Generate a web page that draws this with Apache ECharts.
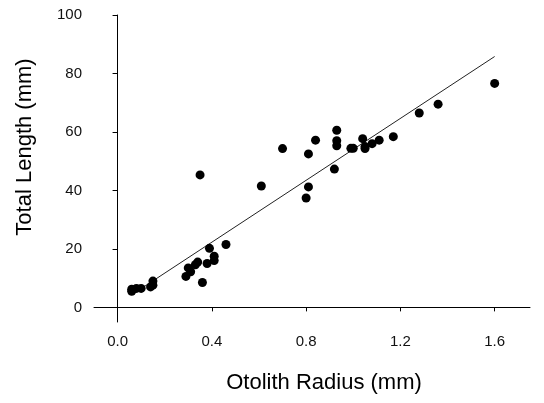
<!DOCTYPE html>
<html><head><meta charset="utf-8">
<script src="https://cdn.jsdelivr.net/npm/echarts@6/dist/echarts.min.js"></script>
<style>html,body{margin:0;padding:0;background:#fff}#c{width:544px;height:403px}</style>
</head><body><div id="c"></div>
<script>
const radius = [0.06,0.06,0.08,0.10,0.14,0.15,0.15,0.29,0.30,0.31,0.33,0.34,0.36,0.38,0.39,0.41,0.41,0.46,0.35,0.61,0.70,0.80,0.81,0.81,0.84,0.92,0.93,0.93,0.93,0.99,1.00,1.04,1.05,1.05,1.08,1.11,1.17,1.28,1.36,1.60];
const length = [5.5,6.2,6.5,6.5,7.0,7.6,9.0,10.6,13.5,12.2,14.6,15.5,8.5,15.0,20.2,17.5,16.0,21.5,45.3,41.5,54.3,37.4,41.2,52.5,57.2,47.3,55.3,57.0,60.6,54.4,54.4,57.7,54.3,55.0,56.0,57.2,58.4,66.5,69.5,76.6];
const fitLine = [[0.06,4.3],[1.60,85.8]];
const xTicks = [0,0.4,0.8,1.2,1.6];
const yTicks = [0,20,40,60,80,100];
const xTitle = 'Otolith Radius (mm)';
const yTitle = 'Total Length (mm)';

const chart = echarts.init(document.getElementById('c'));
const font = 'Liberation Sans, Arial, sans-serif';
chart.setOption({
  animation:false,
  grid:{left:94,right:14,top:15,bottom:81},
  graphic:[
    {type:'text',x:324,y:383,style:{text:xTitle,fontSize:22,fontFamily:font,fill:'#000',align:'center',verticalAlign:'middle'}},
    {type:'text',x:25,y:147,rotation:Math.PI/2,style:{text:yTitle,fontSize:22,fontFamily:font,fill:'#000',align:'center',verticalAlign:'middle'}}
  ],
  xAxis:{type:'value',min:-0.1,max:1.75,
    axisLine:{lineStyle:{color:'#000',width:1}},
    axisTick:{show:true,length:4,customValues:xTicks,lineStyle:{color:'#000'}},
    axisLabel:{customValues:xTicks,color:'#111',fontSize:15,fontFamily:font,margin:12,
      formatter:v=>v.toFixed(1)},
    splitLine:{show:false}},
  yAxis:{type:'value',min:-5,max:100,
    axisLine:{show:true,lineStyle:{color:'#000',width:1}},
    axisTick:{show:true,length:5,customValues:yTicks,lineStyle:{color:'#000'}},
    axisLabel:{customValues:yTicks,color:'#111',fontSize:15,fontFamily:font,margin:12},
    splitLine:{show:false}},
  series:[
    {type:'line',data:fitLine,symbol:'none',lineStyle:{color:'#222',width:1},z:1},
    {type:'scatter',data:radius.map((r,i)=>[r,length[i]]),symbolSize:9,itemStyle:{color:'#000',opacity:1},z:2}
  ]
});
</script></body></html>
